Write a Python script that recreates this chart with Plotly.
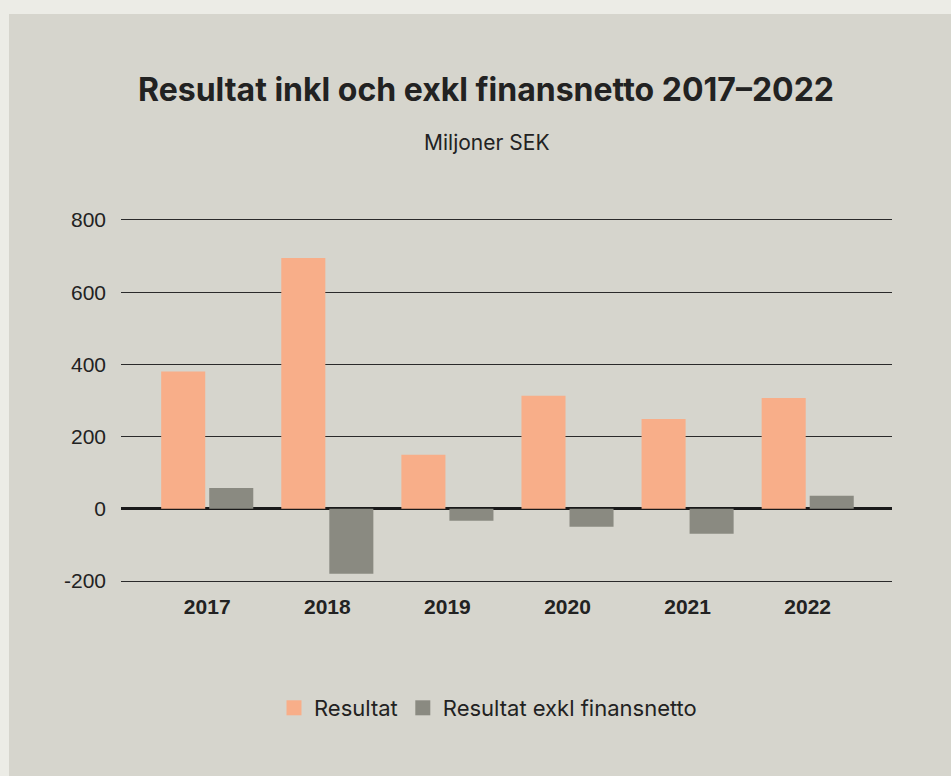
import plotly.graph_objects as go

years = ["2017", "2018", "2019", "2020", "2021", "2022"]
resultat = [380, 695, 150, 313, 249, 307]
resultat_exkl = [58, -180, -33, -50, -69, 36]
y_ticks = [-200, 0, 200, 400, 600, 800]
y_ticklabels = ["-200", "0", "200", "400", "600", "800"]

W, H = 951, 776
L, R, T, B = 121, 59, 216, 191
pw, ph = W - L - R, H - T - B

OUTER = "#ecece6"
INNER = "#d6d5cd"
ORANGE = "#f8ae89"
GRAY = "#8a8a81"
TXT = "#222222"

fig = go.Figure()
fig.add_trace(go.Bar(x=years, y=resultat, name="Resultat", marker_color=ORANGE,
                     marker_line_width=0, showlegend=False))
fig.add_trace(go.Bar(x=years, y=resultat_exkl, name="Resultat exkl finansnetto",
                     marker_color=GRAY, marker_line_width=0, showlegend=False))
# legend entries with larger square symbols
for nm, col in [("Resultat", ORANGE), ("Resultat exkl finansnetto", GRAY)]:
    fig.add_trace(go.Scatter(x=[None], y=[None], mode="markers", name=nm,
                             marker=dict(symbol="square", size=15, color=col)))

# inner panel
fig.add_shape(type="rect", xref="paper", yref="paper", layer="below",
              x0=(9 - L) / pw, x1=(W + 5 - L) / pw,
              y0=(H - B - (H + 5)) / ph, y1=(H - B - 14) / ph,
              fillcolor=INNER, line_width=0)

fig.update_layout(
    width=W, height=H,
    margin=dict(l=L, r=R, t=T, b=B),
    paper_bgcolor=OUTER, plot_bgcolor=INNER,
    barmode="group", bargap=0.2, bargroupgap=0.083,
    font=dict(family="Liberation Sans, Arial, sans-serif", color=TXT, size=21),
    title=dict(text="<b>Resultat inkl och exkl finansnetto 2017–2022</b>",
               x=486 / W, xref="container", xanchor="center",
               y=1 - 90 / H, yref="container", yanchor="middle",
               font=dict(family="Inter, sans-serif", size=32, color=TXT)),
    annotations=[dict(text="Miljoner SEK", xref="paper", yref="paper",
                      x=(487 - L) / pw, y=(H - B - 143) / ph,
                      xanchor="center", yanchor="middle", showarrow=False,
                      font=dict(family="Inter, sans-serif", size=21, color=TXT))],
    showlegend=True,
    legend=dict(orientation="h", x=(488 - L) / pw, xanchor="center",
                y=(H - B - 708) / ph, yanchor="middle",
                font=dict(family="Inter, sans-serif", size=22, color=TXT),
                bgcolor="rgba(0,0,0,0)", itemwidth=30, traceorder="normal"),
    xaxis=dict(range=[-0.718, 5.702], showgrid=False, zeroline=False, showline=False,
               ticks="", ticklabelstandoff=7,
               tickfont=dict(family="Liberation Sans, Arial, sans-serif",
                             size=21, color=TXT, weight="bold"),
               fixedrange=True),
    yaxis=dict(range=[-211, 811], tickvals=y_ticks, ticktext=y_ticklabels,
               showgrid=True, gridcolor="#2a2a2a", gridwidth=1.2,
               zeroline=True, zerolinecolor="#1a1a1a", zerolinewidth=2.5,
               showline=False, ticks="", ticklabelstandoff=14,
               tickfont=dict(size=21, color=TXT), fixedrange=True),
)

fig.write_html("out.html", config={"displayModeBar": False},
               post_script="document.body.style.margin='0';"
                           "document.body.style.overflow='hidden';"
                           "document.body.style.background='#ecece6';")
